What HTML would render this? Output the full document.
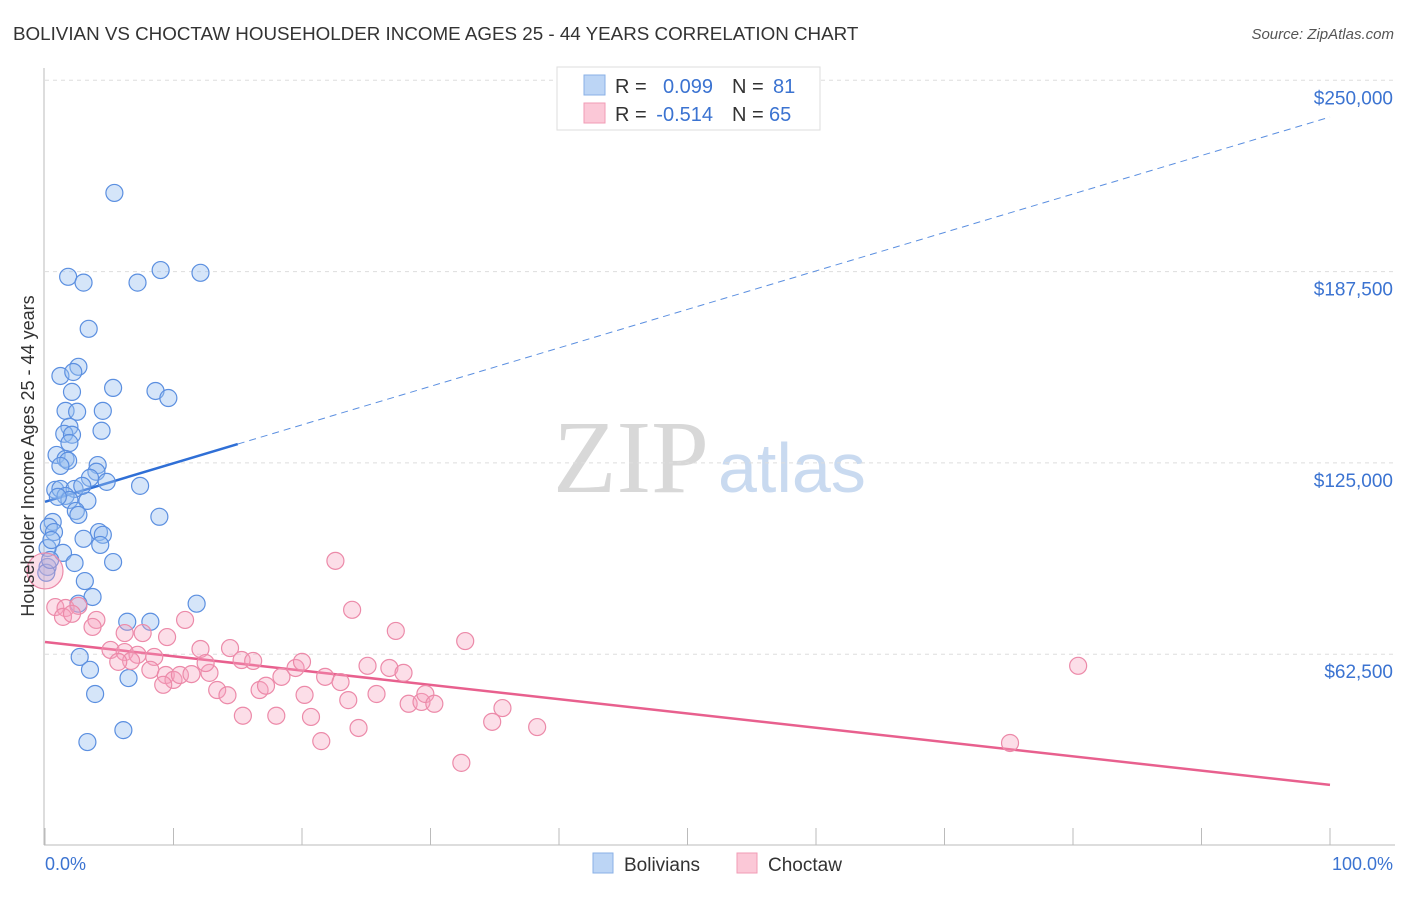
<!DOCTYPE html>
<html><head><meta charset="utf-8"><style>
body{margin:0;background:#fff;font-family:"Liberation Sans",sans-serif;}
</style></head><body>
<svg id="chart" width="1406" height="892" viewBox="0 0 1406 892" xmlns="http://www.w3.org/2000/svg" font-family="Liberation Sans, sans-serif">
<text x="13" y="40" font-size="18.8" fill="#333">BOLIVIAN VS CHOCTAW HOUSEHOLDER INCOME AGES 25 - 44 YEARS CORRELATION CHART</text>
<text x="1394" y="39" font-size="15" fill="#555" font-style="italic" text-anchor="end">Source: ZipAtlas.com</text>
<g>
<text x="553" y="492" font-size="104" fill="#d8d8d8" style="font-family:'Liberation Serif',serif">ZIP</text>
<text x="718" y="492" font-size="70" fill="#c9daf0">atlas</text>
</g>
<g id="grid"></g>
<g id="axes"></g>
<g id="trends"></g>
<g id="pts"></g>
<text transform="translate(34,456) rotate(-90)" font-size="18" fill="#333" text-anchor="middle">Householder Income Ages 25 - 44 years</text>
<text x="45" y="870" font-size="18" fill="#3b73d1">0.0%</text>
<text x="1393" y="870" font-size="18" fill="#3b73d1" text-anchor="end">100.0%</text>
<g>
<rect x="557" y="67" width="263" height="63" fill="#fff" stroke="#ddd"/>
<rect x="584" y="75" width="21" height="20" fill="#bcd5f5" stroke="#8ab0e6"/>
<rect x="584" y="103" width="21" height="20" fill="#fbc8d7" stroke="#f19bb5"/>
<text x="615" y="93" font-size="20" fill="#333">R =</text>
<text x="713" y="93" font-size="20" fill="#3b73d1" text-anchor="end">0.099</text>
<text x="732" y="93" font-size="20" fill="#333">N =</text>
<text x="773" y="93" font-size="20" fill="#3b73d1">81</text>
<text x="615" y="121" font-size="20" fill="#333">R =</text>
<text x="713" y="121" font-size="20" fill="#3b73d1" text-anchor="end">-0.514</text>
<text x="732" y="121" font-size="20" fill="#333">N =</text>
<text x="769" y="121" font-size="20" fill="#3b73d1">65</text>
</g>
<g>
<rect x="593" y="853" width="20" height="20" fill="#bcd5f5" stroke="#8ab0e6"/>
<text x="624" y="871" font-size="19" fill="#333">Bolivians</text>
<rect x="737" y="853" width="20" height="20" fill="#fbc8d7" stroke="#f19bb5"/>
<text x="768" y="871" font-size="19" fill="#333">Choctaw</text>
</g>
</svg>
<script>
const yTicks=[62500,125000,187500,250000];
const yTickLabels=["$62,500","$125,000","$187,500","$250,000"];
const xTicks=[0,10,20,30,40,50,60,70,80,90,100];
const bolX=[5.4,1.8,3.0,7.2,9.0,12.1,3.4,2.6,1.2,2.2,5.3,8.6,9.6,2.1,1.6,2.5,4.5,1.9,4.4,1.5,2.1,1.9,0.9,1.6,1.8,1.2,4.1,4.0,3.5,4.8,7.4,0.8,1.2,2.3,1.6,1.9,3.3,2.4,2.6,8.9,0.6,0.3,0.7,4.2,4.5,3.0,4.3,1.4,0.2,5.3,2.3,3.1,0.2,0.1,3.7,2.6,11.8,6.4,8.2,2.7,3.5,6.5,3.9,6.1,3.3,0.5,0.4,1.0,2.9];
const bolY=[213.2,185.8,183.9,183.9,188.0,187.1,168.8,156.4,153.4,154.7,149.5,148.5,146.2,148.2,142.0,141.7,142.0,136.8,135.5,134.5,134.2,131.5,127.6,126.3,125.7,124.0,124.3,122.1,120.1,118.8,117.5,116.2,116.5,116.5,114.2,112.9,112.6,109.3,108.0,107.4,105.7,104.1,102.4,102.4,101.5,100.2,98.2,95.6,97.2,92.6,92.3,86.4,91.0,89.1,81.2,79.0,79.0,73.1,73.1,61.6,57.4,54.7,49.5,37.7,33.8,99.8,93.3,113.9,117.5];
const choX=[0.0,0.8,1.6,2.6,1.4,2.1,4.0,3.7,6.2,7.6,9.5,10.9,5.1,6.2,7.2,6.7,8.5,8.2,5.7,9.4,10.0,10.5,11.4,12.1,12.8,12.5,9.2,13.4,14.2,14.4,15.3,16.2,15.4,16.7,17.2,18.0,18.4,19.5,20.0,20.2,20.7,21.5,21.8,23.0,23.6,24.4,22.6,23.9,25.1,25.8,26.8,27.3,27.9,28.3,29.3,29.6,30.3,32.4,32.7,34.8,35.6,38.3,80.4,75.1];
const choY=[89.7,77.9,77.6,78.3,74.7,75.7,73.7,71.4,69.4,69.4,68.1,73.7,63.9,63.2,62.3,60.3,61.6,57.4,60.0,55.7,54.1,55.7,56.0,64.2,56.4,59.6,52.5,50.8,49.1,64.5,60.6,60.3,42.4,50.8,52.2,42.4,55.1,58.0,60.0,49.2,42.0,34.1,55.1,53.4,47.5,38.4,93.0,77.0,58.7,49.5,58.0,70.1,56.4,46.3,46.9,49.5,46.3,27.0,66.8,40.4,44.9,38.7,58.7,33.5];
const bolTrend=[112.3,238.0];
const choTrend=[66.5,19.8];
const NS='http://www.w3.org/2000/svg';
const X=v=>45+v*12.85;
const Y=v=>845.5-v*191.3/62.5;
function mk(t,a,p){const e=document.createElementNS(NS,t);for(const k in a)e.setAttribute(k,a[k]);p.appendChild(e);return e;}
const grid=document.getElementById('grid'),axes=document.getElementById('axes'),tr=document.getElementById('trends'),pts=document.getElementById('pts');
yTicks.forEach((t,i)=>{const y=Y(t/1000);
const l=mk('line',{x1:45,x2:1395,y1:y,y2:y,stroke:'#ddd','stroke-dasharray':'4,4'},grid);


const tx=mk('text',{x:1393,y:y+24,'font-size':19,fill:'#3b73d1','text-anchor':'end'},grid);tx.textContent=yTickLabels[i];

});
mk('line',{x1:44,x2:44,y1:68,y2:845,stroke:'#bbb'},axes);
mk('line',{x1:44,x2:1395,y1:845,y2:845,stroke:'#bbb'},axes);
xTicks.forEach(t=>{const l=mk('line',{x1:X(t),x2:X(t),y1:828,y2:845,stroke:'#bbb'},axes);

});
bolX.forEach((x,i)=>{const c=mk('circle',{cx:X(x),cy:Y(bolY[i]),r:8.5,fill:'rgba(150,190,240,0.4)',stroke:'#5b8fe0','stroke-width':1.2},pts);

});
choX.forEach((x,i)=>{const c=mk('circle',{cx:X(x),cy:Y(choY[i]),r:i===0?18:8.5,fill:'rgba(245,160,190,0.35)',stroke:'#ec8aa9','stroke-width':1.2},pts);

});
const bAt=x=>bolTrend[0]+(bolTrend[1]-bolTrend[0])*x/100;
let l1=mk('line',{x1:X(0),y1:Y(bAt(0)),x2:X(15),y2:Y(bAt(15)),stroke:'#2f6fd6','stroke-width':2.5},tr);


let l2=mk('line',{x1:X(15),y1:Y(bAt(15)),x2:X(100),y2:Y(bAt(100)),stroke:'#5b8fe0','stroke-width':1,'stroke-dasharray':'7,5'},tr);


let l3=mk('line',{x1:X(0),y1:Y(choTrend[0]),x2:X(100),y2:Y(choTrend[1]),stroke:'#e8608e','stroke-width':2.5},tr);


</script>
</body></html>
